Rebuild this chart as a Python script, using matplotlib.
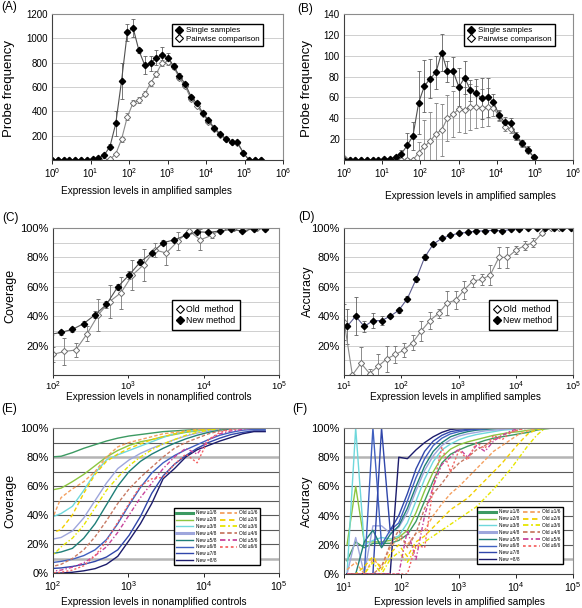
import numpy as np
import matplotlib
matplotlib.use('Agg')
import matplotlib.pyplot as plt
from matplotlib.lines import Line2D
from matplotlib.ticker import FixedLocator, FuncFormatter, NullLocator

plt.rcParams['font.family'] = ['Liberation Sans', 'DejaVu Sans']
plt.rcParams['mathtext.fontset'] = 'custom'
plt.rcParams['mathtext.rm'] = 'Liberation Sans'
plt.rcParams['mathtext.it'] = 'Liberation Sans:italic'
plt.rcParams['mathtext.bf'] = 'Liberation Sans:bold'

########################################
# Data
########################################
# bin centres, sqrt(2) steps
bins = [1, 1.41, 2, 2.83, 4, 5.66, 8, 11.3, 16, 22.6, 32, 45.3, 64, 90.5, 128, 181,
        256, 362, 512, 724, 1024, 1448, 2048, 2896, 4096, 5793, 8192, 11585, 16384,
        23170, 32768, 46341, 65536, 92682, 131072, 185364, 262144]

# (A) probe frequency, all probes
a_single = [0, 0, 0, 0, 0, 0, 3, 6, 15, 40, 110, 300, 650, 1050, 1085, 900, 780, 795, 840,
            860, 840, 770, 690, 625, 520, 465, 390, 325, 265, 215, 175, 150, 145, 60, 0, 0, 0]
a_single_err = [0, 0, 0, 0, 0, 0, 0, 0, 0, 10, 20, 100, 150, 70, 70, 20, 75, 60, 60, 70, 40,
                25, 25, 20, 15, 20, 15, 15, 10, 10, 10, 10, 10, 8, 0, 0, 0]
a_pair = [0, 0, 0, 0, 0, 0, 0, 0, 0, 0, 5, 50, 170, 355, 470, 490, 545, 630, 710, 800, 805,
          765, 670, 605, 500, 445, 380, 315, 255, 205, 170, 145, 140, 60, 0, 0, 0]
a_pair_err = [0, 0, 0, 0, 0, 0, 0, 0, 0, 0, 5, 10, 20, 30, 20, 25, 20, 20, 25, 25, 25, 20,
              15, 15, 15, 10, 10, 10, 10, 10, 8, 8, 8, 5, 0, 0, 0]

# (B) probe frequency, subset
b_single = [0, 0, 0, 0, 0, 0, 0, 1, 1, 3, 6, 14, 23, 55, 71, 78, 84, 103, 85, 85, 70, 79,
            67, 64, 59, 60, 56, 43, 36, 35, 23, 16, 10, 3]
b_single_err = [0, 0, 0, 0, 0, 0, 0, 0, 0, 2, 4, 12, 13, 30, 25, 19, 16, 18, 10, 14, 18, 16,
                10, 14, 20, 19, 7, 5, 5, 5, 4, 3, 3, 2]
b_pair = [2, 0, 0, 0, 0, 0, 0, 0, 0, 0, 0, 0, 0, 7, 13, 18, 25, 29, 40, 44, 49, 48, 51, 51,
          50, 51, 50, 42, 32, 30, 22, 15, 9, 3]
b_pair_err = [0, 0, 0, 0, 0, 0, 0, 0, 0, 0, 0, 0, 0, 10, 25, 28, 30, 25, 22, 22, 22, 22, 22,
              20, 18, 18, 8, 5, 4, 4, 3, 3, 2, 1]

# (C) coverage
c_old_x = [100, 141, 200, 283, 400, 566, 800, 1131, 1600, 2263, 3200, 4525, 6400, 9051,
           12800, 18102, 25600, 36204, 51200]
c_old = [14, 16, 17, 28, 41, 50, 56, 68, 75, 85, 83, 91, 98, 92, 95, 100, 100, 100, 100]
c_old_err = [5, 9, 5, 5, 11, 11, 11, 10, 11, 5, 8, 6, 2, 7, 2, 0.5, 0.5, 0.5, 0.5]
c_new = [27.5, 29, 31, 35, 41, 48, 60, 68, 77, 83, 90, 92, 95, 97.5, 97, 98, 99, 98, 99.5, 99.5]
c_new_err = [1, 1.5, 1.5, 2, 2.5, 2.5, 2, 2.5, 2, 1.5, 1.5, 1, 1, 1, 1, 1, 0.5, 0.5, 0.5, 0.5]

# (D) accuracy
d_old_x = [10.1, 14, 19.8, 28, 39.6, 56, 79.2, 112, 158, 224, 317, 448, 634, 896, 1267,
           1792, 2534, 3584, 5069, 7168, 10137, 14336, 20274, 28672, 40548, 57344]
d_old = [36, 0, 8, 1, 6, 11, 14, 17, 22, 30, 37, 42, 49, 51, 58, 64, 65, 68, 80, 80, 85, 88,
         90, 96.5, 100, 100]
d_old_err = [12, 1, 11, 3, 8, 9, 6, 5, 5, 7, 6, 3, 8, 6, 6, 4, 4, 7, 7, 7, 3, 3, 3, 1, 0.5, 0.5]
d_new = [33, 40, 33, 37, 37, 40, 44, 52, 65, 80, 89, 93, 95, 96.5, 97, 98, 98, 98.5, 98, 99,
         99.5, 100, 100, 100, 100, 100, 100]
d_new_err = [12, 13, 4, 5, 3, 1.5, 1.5, 1.5, 2, 2, 1.5, 1, 1, 1, 1, 0.5, 0.5, 0.5, 0.5, 0.5,
             0.5, 0.5, 0.5, 0.5, 0.5, 0.5, 0.5]

# (E) coverage by call threshold
e_new = [
    [80, 80.5, 83, 86, 88.5, 91, 93, 94.5, 95.5, 96.5, 97.5, 98, 98.5, 99, 99.5, 100, 100, 100, 100, 100],
    [57, 58.5, 63, 68, 74, 80, 84.5, 88, 90.5, 92, 94, 95.5, 97, 98, 99, 99.5, 100, 100, 100, 100],
    [38, 41, 46, 57, 69, 78, 81.5, 84.5, 87.5, 90.5, 93.5, 96, 97.5, 98.5, 99, 99.5, 100, 100, 100, 100],
    [23, 24.5, 29, 38, 50, 62, 72, 78, 82.5, 86, 89, 92, 94.5, 96.5, 98, 99, 99.5, 100, 100, 100],
    [13, 14.5, 17, 24, 34, 47, 60, 70, 77, 82, 86, 89.5, 92.5, 95, 97, 98.5, 99.5, 100, 100, 100],
    [7, 8, 9.5, 12, 16, 23, 34, 47, 59, 69, 76, 81, 85, 88.5, 92, 95, 97, 98.5, 99, 99],
    [3, 3.5, 4.5, 6, 8, 11, 16, 26, 39, 55, 67, 75, 81, 86, 90, 93, 95.5, 97, 98, 98],
    [0, 0, 0.5, 1.5, 3, 6, 11.5, 22.5, 34, 48, 65, 72, 80, 85, 88, 91, 93.5, 96, 97.5, 97.5],
]
e_old = [
    [33, 52, 58, 63, 70, 80, 87, 90, 92, 94, 96, 97, 98, 99, 99.5, 100, 100, 100, 100, 100],
    [27, 30, 40, 55, 68, 77, 82, 86, 89, 92, 94, 96, 97.5, 98.5, 99, 100, 100, 100, 100, 100],
    [10, 18, 24, 33, 45, 57, 66, 74, 80, 85, 89, 92, 95, 97, 98.5, 99.5, 100, 100, 100, 100],
    [4, 6, 10, 16, 25, 36, 48, 58, 66, 73, 80, 86, 90, 93, 96, 98, 99, 100, 100, 100],
    [1, 2, 4, 7, 12, 18, 28, 40, 52, 62, 72, 80, 86, 82, 92, 96, 98, 99, 100, 100],
    [0, 0.5, 2, 5, 12, 22, 35, 48, 60, 65, 66, 75, 82, 76, 92, 97, 99, 100, 100, 100],
]

# (F) accuracy by call threshold
f_new = [
    [9, 22, 18, 21, 21, 21, 23, 27, 36, 50, 64, 76, 82, 85, 87.5, 89.5, 91.5, 93, 94, 95, 96, 97, 98.5, 99.5, 100],
    [20, 60, 22, 22, 22, 23, 25, 30, 42, 57, 70, 80, 85.5, 88.5, 90.5, 92, 93.5, 95, 96, 97, 97.5, 98.5, 99, 99.5, 100],
    [0, 100, 20, 23, 25, 24, 26, 35, 50, 65, 77, 85, 89, 92, 94, 95.5, 96.5, 97.5, 98.5, 99, 99.5, 100, 100, 100, 100],
    [0, 25, 0, 33, 33, 28, 32, 42, 57, 71, 81, 88, 92, 94.5, 96, 97, 98, 98.5, 99, 99.5, 100, 100, 100, 100, 100],
    [0, 0, 22, 30, 18, 27, 33, 45, 60, 74, 84, 90, 94, 96, 97.5, 98.5, 99, 99.5, 100, 100, 100, 100, 100, 100, 100],
    [0, 0, 0, 100, 20, 30, 35, 50, 66, 79, 88, 93, 96, 97.5, 98.5, 99, 99.5, 100, 100, 100, 100, 100, 100, 100, 100],
    [0, 0, 0, 0, 100, 30, 40, 55, 72, 84, 91, 95, 97.5, 98.5, 99, 99.5, 100, 100, 100, 100, 100, 100, 100, 100, 100],
    [0, 0, 0, 0, 0, 0, 80, 79, 85, 90, 94, 97, 99, 99.5, 100, 100, 100, 100, 100, 100, 100, 100, 100, 100, 100],
]
f_old = [
    [3, 8, 0, 10, 5, 18, 25, 20, 28, 30, 40, 48, 55, 60, 66, 72, 78, 84, 88, 92, 96, 98, 100, 100, 100],
    [0, 0, 5, 12, 3, 14, 20, 12, 22, 26, 32, 38, 44, 48, 52, 58, 64, 70, 76, 83, 90, 96, 99, 100, 100],
    [0, 0, 0, 8, 0, 10, 15, 8, 18, 22, 26, 30, 34, 38, 42, 46, 52, 58, 65, 72, 80, 88, 95, 100, 100],
    [0, 0, 0, 0, 5, 20, 30, 18, 28, 45, 55, 62, 70, 76, 80, 85, 88, 92, 95, 97, 99, 100, 100, 100, 100],
    [0, 0, 0, 0, 0, 0, 0, 30, 10, 40, 60, 75, 80, 86, 80, 88, 84, 91, 95, 98, 100, 100, 100, 100, 100],
    [0, 0, 0, 0, 0, 0, 0, 0, 20, 18, 60, 87, 70, 85, 78, 90, 86, 95, 92, 97, 99, 100, 100, 100, 100],
]

new_labels = ['New \u22651/8', 'New \u22652/8', 'New \u22653/8', 'New \u22654/8',
              'New \u22655/8', 'New \u22656/8', 'New \u22657/8', 'New =8/8']
old_labels = ['Old \u22651/6', 'Old \u22652/6', 'Old \u22653/6', 'Old \u22654/6',
              'Old \u22655/6', 'Old \u22656/6']
new_colors = ['#3c9a62', '#8cc63f', '#6fd8dc', '#9ea6dc', '#1f7f78', '#4060c0', '#3046aa', '#1c1c6c']
new_leg_lw = [2.2, 1.0, 1.0, 2.2, 1.0, 1.0, 1.0, 1.0]
old_colors = ['#f4a060', '#f2d000', '#e6e600', '#c87a64', '#c8449c', '#f46464']
old_styles = [(0, (2.5, 1.5)), (0, (3, 2)), (0, (3, 1.5, 1, 1.5)), (0, (2.5, 1.5)),
              (0, (3, 1.5, 1, 1.5)), (0, (1.5, 1.5))]

########################################
# Figure
########################################
W, H = 582, 608
fig = plt.figure(figsize=(W / 100, H / 100), dpi=100)


def add_ax(l, t, r, b):
    return fig.add_axes([l / W, 1 - b / H, (r - l) / W, (b - t) / H])


def dec_fmt(v, p):
    return r'$\mathregular{10^{%d}}$' % int(round(np.log10(v)))


def style(ax, xlo, xhi, tick_fs, ytick_fs, tlen=3, tpad=1.5):
    ax.set_xscale('log')
    ax.set_xlim(xlo, xhi)
    ax.xaxis.set_major_locator(FixedLocator([10.0 ** i for i in range(int(np.log10(xlo)), int(np.log10(xhi)) + 1)]))
    ax.xaxis.set_minor_locator(NullLocator())
    ax.xaxis.set_major_formatter(FuncFormatter(dec_fmt))
    ax.tick_params(axis='x', labelsize=tick_fs, direction='out', length=tlen, width=0.6, pad=tpad)
    ax.tick_params(axis='y', which='both', labelsize=ytick_fs, direction='out', length=0, pad=3)
    for s in ['top', 'right']:
        ax.spines[s].set_color('#8c8c8c')
        ax.spines[s].set_linewidth(0.8)
    for s in ['left', 'bottom']:
        ax.spines[s].set_color('#404040')
        ax.spines[s].set_linewidth(0.8)
    ax.set_axisbelow(True)


def legend_box(ax, handles, labels, x, y, fs, **kw):
    leg = ax.legend(handles, labels, loc='upper left', bbox_to_anchor=(x / W, 1 - y / H),
                    bbox_transform=fig.transFigure, fontsize=fs, frameon=True, fancybox=False,
                    edgecolor='black', framealpha=1, borderaxespad=0, **kw)
    leg.get_frame().set_linewidth(1.0)
    return leg


eb = dict(capsize=1.5, elinewidth=0.6, capthick=0.6)
filled = Line2D([], [], marker='D', color='black', ls='none', ms=4.5)
opened = Line2D([], [], marker='D', mfc='white', mec='black', ls='none', ms=4.5, mew=0.8)

# ---------- (A) ----------
axA = add_ax(52, 14, 283, 160)
style(axA, 1, 1e6, 7, 7)
axA.set_ylim(0, 1200)
axA.set_yticks([200, 400, 600, 800, 1000, 1200])
axA.yaxis.grid(True, color='#cfcfcf', lw=0.7)
axA.errorbar(bins[:37], a_pair, yerr=a_pair_err, color='#8a8a8a', marker='D', ms=3.2,
             mfc='white', mec='#707070', mew=0.7, lw=0.8, ecolor='#8a8a8a', **eb)
axA.errorbar(bins[:37], a_single, yerr=a_single_err, color='#505050', marker='D', ms=3.2,
             mfc='black', mec='black', lw=0.8, ecolor='#606060', **eb)
axA.set_ylabel('Probe frequency', fontsize=9.5)
axA.yaxis.set_label_coords(-0.16, 0.49)
axA.set_xlabel('Expression levels in amplified samples', fontsize=7.2)
axA.xaxis.set_label_coords(0.41, -0.18)
legend_box(axA, [filled, opened], ['Single samples', 'Pairwise comparison'], 172, 24, 5.8,
           handlelength=1.0, handletextpad=0.4, labelspacing=0.15, borderpad=0.35)

# ---------- (B) ----------
axB = add_ax(344, 14, 573, 160)
style(axB, 1, 1e6, 7, 7)
axB.set_ylim(0, 140)
axB.set_yticks([20, 40, 60, 80, 100, 120, 140])
axB.yaxis.grid(True, color='#cfcfcf', lw=0.7)
axB.errorbar(bins[:34], b_pair, yerr=b_pair_err, color='#8a8a8a', marker='D', ms=3.2,
             mfc='white', mec='#707070', mew=0.7, lw=0.8, ecolor='#8a8a8a', **eb)
axB.errorbar(bins[:34], b_single, yerr=b_single_err, color='#505050', marker='D', ms=3.2,
             mfc='black', mec='black', lw=0.8, ecolor='#606060', **eb)
axB.set_ylabel('Probe frequency', fontsize=9.5)
axB.yaxis.set_label_coords(-0.135, 0.49)
axB.set_xlabel('Expression levels in amplified samples', fontsize=7.2)
axB.xaxis.set_label_coords(0.55, -0.21)
legend_box(axB, [filled, opened], ['Single samples', 'Pairwise comparison'], 464, 24, 5.8,
           handlelength=1.0, handletextpad=0.4, labelspacing=0.15, borderpad=0.35)

# ---------- (C) ----------
pct = FuncFormatter(lambda v, p: '%d%%' % v)
axC = add_ax(53, 228, 279, 375)
style(axC, 1e2, 1e5, 6.8, 8, tlen=2.5, tpad=1)
axC.set_ylim(0, 100)
axC.set_yticks([20, 40, 60, 80, 100])
axC.set_yticks([10, 30, 50, 70, 90], minor=True)
axC.yaxis.set_major_formatter(pct)
axC.yaxis.grid(True, which='both', color='#cfcfcf', lw=0.7)
axC.errorbar(c_old_x, c_old, yerr=c_old_err, color='#8a8a8a', marker='D', ms=3.2,
             mfc='white', mec='#707070', mew=0.7, lw=0.8, ecolor='#7a7a7a', **eb)
axC.errorbar(bins[13:33], c_new, yerr=c_new_err, color='#505050', marker='D', ms=3.2,
             mfc='black', mec='black', lw=0.8, ecolor='#606060', **eb)
axC.set_ylabel('Coverage', fontsize=9)
axC.yaxis.set_label_coords(-0.16, 0.54)
axC.set_xlabel('Expression levels in nonamplified controls', fontsize=7.2)
axC.xaxis.set_label_coords(0.47, -0.118)
legend_box(axC, [opened, filled], ['Old  method', 'New method'], 172, 300, 6.3,
           handlelength=0.8, handletextpad=0.3, labelspacing=0.25, borderpad=0.55)

# ---------- (D) ----------
axD = add_ax(344, 228, 573, 375)
style(axD, 1e1, 1e5, 6.8, 8, tlen=2.5, tpad=1)
axD.set_ylim(0, 100)
axD.set_yticks([20, 40, 60, 80, 100])
axD.set_yticks([10, 30, 50, 70, 90], minor=True)
axD.yaxis.set_major_formatter(pct)
axD.yaxis.grid(True, which='both', color='#cfcfcf', lw=0.7)
axD.errorbar(d_old_x, d_old, yerr=d_old_err, color='#8a8a8a', marker='D', ms=3.2,
             mfc='white', mec='#707070', mew=0.7, lw=0.8, ecolor='#7a7a7a', **eb)
axD.errorbar(bins[7:34], d_new, yerr=d_new_err, color='#5a5a8c', marker='D', ms=3.2,
             mfc='black', mec='black', lw=0.8, ecolor='#606060', **eb)
axD.set_ylabel('Accuracy', fontsize=9)
axD.yaxis.set_label_coords(-0.13, 0.57)
axD.set_xlabel('Expression levels in amplified samples', fontsize=7.2)
axD.xaxis.set_label_coords(0.485, -0.118)
legend_box(axD, [opened, filled], ['Old  method', 'New method'], 489, 300, 6.3,
           handlelength=0.8, handletextpad=0.3, labelspacing=0.25, borderpad=0.55)


# ---------- (E) and (F) ----------
def threshold_panel(ax, xs, new_vals, old_vals, lx, ly):
    ax.set_ylim(0, 100)
    ax.set_yticks([0, 20, 40, 60, 80, 100])
    ax.yaxis.set_major_formatter(pct)
    for g in range(10, 100, 10):
        if g in (10, 80):
            ax.axhline(g, color='#b4b4b4', lw=1.8, zorder=0)
        else:
            ax.axhline(g, color='#5a5a5a', lw=0.8, zorder=0)
    for vals, c in zip(new_vals, new_colors):
        ax.plot(xs, vals, color=c, lw=1.0)
    for vals, c, ls in zip(old_vals, old_colors, old_styles):
        ax.plot(xs, vals, color=c, lw=1.0, ls=ls)
    hs = [Line2D([], [], color=c, lw=w) for c, w in zip(new_colors, new_leg_lw)]
    hs += [Line2D([], [], color=c, lw=1.3, ls=ls) for c, ls in zip(old_colors, old_styles)]
    hs += [Line2D([], [], alpha=0), Line2D([], [], alpha=0)]
    labs = new_labels + old_labels + ['', '']
    legend_box(ax, hs, labs, lx, ly, 3.4, ncol=2, handlelength=3.6, handletextpad=0.5,
               labelspacing=0.38, borderpad=0.5, columnspacing=0.8)


axE = add_ax(53, 428, 279, 573)
style(axE, 1e2, 1e5, 7.5, 8)
threshold_panel(axE, bins[13:33], e_new, e_old, 174, 508)
axE.set_ylabel('Coverage', fontsize=9)
axE.yaxis.set_label_coords(-0.16, 0.5)
axE.set_xlabel('Expression levels in nonamplified controls', fontsize=7.2)
axE.xaxis.set_label_coords(0.447, -0.165)

axF = add_ax(344, 428, 573, 574)
style(axF, 1e1, 1e5, 7.5, 8)
threshold_panel(axF, bins[7:32], f_new, f_old, 477, 507)
axF.set_ylabel('Accuracy', fontsize=9)
axF.yaxis.set_label_coords(-0.135, 0.5)
axF.set_xlabel('Expression levels in amplified samples', fontsize=7.2)
axF.xaxis.set_label_coords(0.506, -0.16)

# panel letters
for lab, x, y in [('(A)', 1, 1), ('(B)', 297, 3), ('(C)', 2, 212), ('(D)', 298, 211),
                  ('(E)', 1, 403), ('(F)', 292, 403)]:
    fig.text(x / W, 1 - y / H, lab, fontsize=8.5, ha='left', va='top')

fig.savefig('out.png', dpi=100, facecolor='white')
